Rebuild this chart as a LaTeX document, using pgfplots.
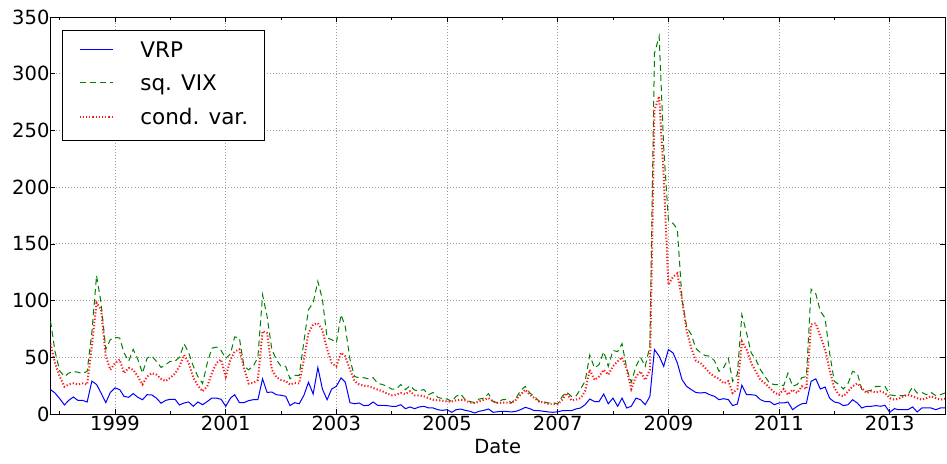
\documentclass[border=0pt]{standalone}
\usepackage{fontspec}
\setmainfont{DejaVu Sans}
\usepackage{pgfplots}
\usepackage{pgfplotstable}
\pgfplotsset{compat=1.18}
\usepgfplotslibrary{dateplot}

% monthly series: VRP, squared VIX, conditional variance
\pgfplotstableread{
date vrp vix cv
1997-11-01 21.5 82 62
1997-12-01 18.5 55 45
1998-01-01 13.5 38 33
1998-02-01 8 33 24
1998-03-01 12 36 26
1998-04-01 15 37.6 27
1998-05-01 12 36.8 26
1998-06-01 12 35.6 27
1998-07-01 10.6 37.6 26
1998-08-01 29 72 60
1998-09-01 26 122 98
1998-10-01 18.5 98 92
1998-11-01 10 57 51
1998-12-01 19 65.6 39
1999-01-01 23 67.6 45
1999-02-01 21.5 67 48
1999-03-01 15.6 54 36
1999-04-01 14.7 46.5 40.6
1999-05-01 18 57 39
1999-06-01 14.7 48 33
1999-07-01 12.6 36 26
1999-08-01 17 49.4 33
1999-09-01 16.8 51 36
1999-10-01 14 46.5 34.7
1999-11-01 9.5 41 31
1999-12-01 12 43.5 29
2000-01-01 13 46.5 32
2000-02-01 13 46.5 35.6
2000-03-01 8 50 42
2000-04-01 9.7 61.8 52
2000-05-01 10.6 54 45
2000-06-01 6.8 42 32
2000-07-01 10.6 33 25
2000-08-01 8.2 26.8 20
2000-09-01 11 45 24.4
2000-10-01 14 58 36
2000-11-01 14 59 45
2000-12-01 13 56 48
2001-01-01 6.8 49 33
2001-02-01 14 53 48
2001-03-01 17 68 55
2001-04-01 10 67 57
2001-05-01 10 42 40.6
2001-06-01 11.8 39 26.8
2001-07-01 12.6 42 27.4
2001-08-01 12.6 50 30
2001-09-01 31 105 73
2001-10-01 19 86 71.5
2001-11-01 19.4 57 39
2001-12-01 17 48 32.5
2002-01-01 16.5 42 30
2002-02-01 15.6 42 29
2002-03-01 7.4 31 26
2002-04-01 10 34 27.4
2002-05-01 9 34 27
2002-06-01 16.5 64 48
2002-07-01 28 92 71.5
2002-08-01 17.6 98 79
2002-09-01 41 117 80
2002-10-01 22 101 74
2002-11-01 12.6 67 57
2002-12-01 22 65.6 45
2003-01-01 24.4 62.6 42
2003-02-01 31.8 87.6 54
2003-03-01 28 77 51
2003-04-01 10 48 39
2003-05-01 9 33 29
2003-06-01 9.7 32 26
2003-07-01 7.4 32 25
2003-08-01 7.6 31 24.4
2003-09-01 10.6 32 23
2003-10-01 7.6 27 21.5
2003-11-01 7.6 26 20
2003-12-01 7.4 24.4 18
2004-01-01 6.8 22 16.5
2004-02-01 6.8 22 17
2004-03-01 8.2 26 18.5
2004-04-01 4.7 21.5 17.6
2004-05-01 6.2 25 20
2004-06-01 4.7 21 16.5
2004-07-01 6.2 20.6 16.5
2004-08-01 6.8 21.5 15.6
2004-09-01 5.3 17 14
2004-10-01 5.3 19 12.6
2004-11-01 3.8 14.7 12
2004-12-01 3.2 13.5 11.8
2005-01-01 3.8 13.2 11
2005-02-01 1.5 11 11
2005-03-01 3.8 15.6 12
2005-04-01 4.4 17.6 12.6
2005-05-01 3.2 12.6 12
2005-06-01 2.4 11 10
2005-07-01 0.9 10 9.7
2005-08-01 2.4 13.2 11
2005-09-01 3.2 14 12.6
2005-10-01 4.4 18 14
2005-11-01 1.5 11 11
2005-12-01 2 10 9.7
2006-01-01 2.4 12.6 10
2006-02-01 2.2 13 10
2006-03-01 1.8 9.7 9.7
2006-04-01 2.4 14 12.6
2006-05-01 3.8 20.6 17
2006-06-01 5.9 24.4 21.5
2006-07-01 4.7 18.5 17
2006-08-01 2.9 15.6 14
2006-09-01 2.9 11 11
2006-10-01 2.4 10.6 10.3
2006-11-01 1.8 9.7 9
2006-12-01 1.5 10 9
2007-01-01 2 9 8.5
2007-02-01 2.9 15.6 12.6
2007-03-01 2.9 19.4 18.5
2007-04-01 2.9 15.6 12
2007-05-01 4.4 15.6 12.6
2007-06-01 5.3 22 14
2007-07-01 8.2 28.8 20
2007-08-01 13.2 52 39
2007-09-01 11 40.6 30
2007-10-01 11 43.5 33
2007-11-01 17.6 55 39
2007-12-01 9 42 34.7
2008-01-01 14 56 42
2008-02-01 6.8 55 46.5
2008-03-01 14 62 50
2008-04-01 5.3 40 39
2008-05-01 6.8 28 22
2008-06-01 14 42 33
2008-07-01 12.6 50 37.6
2008-08-01 8.2 42 30
2008-09-01 15.6 60 39
2008-10-01 56.8 318 268
2008-11-01 51 333 280
2008-12-01 42 235 210
2009-01-01 56.8 171 114
2009-02-01 53.8 168 121
2009-03-01 45 163 124
2009-04-01 30.3 101 101
2009-05-01 24.4 77 74
2009-06-01 21.5 70 58
2009-07-01 19 58 47
2009-08-01 18.5 54 45
2009-09-01 19 51.5 40.6
2009-10-01 17 51 36
2009-11-01 15.6 47 33
2009-12-01 12.6 37.6 31
2010-01-01 13.5 41 27
2010-02-01 12.6 49 29
2010-03-01 7.4 28.8 18.5
2010-04-01 8.8 35 22
2010-05-01 25.3 87.6 64
2010-06-01 17 71.5 57
2010-07-01 17 54 45
2010-08-01 16.5 48 37.6
2010-09-01 12.6 39 30
2010-10-01 11 33 27
2010-11-01 11 27 23
2010-12-01 8.2 26 19
2011-01-01 9.7 26 17
2011-02-01 9.7 25 22
2011-03-01 10.6 36 17
2011-04-01 3.8 24.4 21.5
2011-05-01 6.8 26 18.5
2011-06-01 9 32 24.4
2011-07-01 9.5 33 22
2011-08-01 28.8 110 79
2011-09-01 31 106 80
2011-10-01 22 90.6 68.5
2011-11-01 23.8 84.7 57
2011-12-01 14 54 39
2012-01-01 10.6 28.8 23
2012-02-01 9.7 26 17
2012-03-01 7.4 22 15.6
2012-04-01 8.2 27 20
2012-05-01 12.6 37.6 24.4
2012-06-01 9.7 36 27
2012-07-01 5.3 21.5 23
2012-08-01 6.8 20 18.5
2012-09-01 6.8 21 20
2012-10-01 7.4 24.4 19
2012-11-01 6.8 24.4 20
2012-12-01 7.6 24.4 18.5
2013-01-01 1.5 17 14
2013-02-01 4.7 16.2 12.6
2013-03-01 3.8 16.2 13.5
2013-04-01 3.8 16.2 15.6
2013-05-01 3.8 17 17
2013-06-01 6.2 23.8 15.6
2013-07-01 1.8 18.5 14
2013-08-01 5.3 19 12.6
2013-09-01 5.3 17 14
2013-10-01 5.3 19 15.6
2013-11-01 3.8 16.2 14
2013-12-01 5.3 17 12.6
2014-01-01 5.3 18.5 13.5
}\vrpdata

\definecolor{mplgreen}{rgb}{0,0.5,0}

\begin{document}
\begin{tikzpicture}
\useasboundingbox (-50.5pt,-49pt) rectangle (896.5pt,414pt);
\begin{axis}[
    at={(0pt,0pt)}, anchor=south west,
    scale only axis,
    width=894.5pt, height=397pt,
    date coordinates in=x,
    xmin=1997-11-01, xmax=2014-01-01,
    ymin=0, ymax=350,
    ytick={0,50,...,350},
    xtick={1999-01-01,2001-01-01,2003-01-01,2005-01-01,2007-01-01,2009-01-01,2011-01-01,2013-01-01},
    minor xtick={1998-01-01,2000-01-01,2002-01-01,2004-01-01,2006-01-01,2008-01-01,2010-01-01,2012-01-01},
    xticklabel={\year},
    /pgf/number format/assume math mode=true,
    tick label style={font=\fontsize{19.5}{22}\selectfont},
    xticklabel style={yshift=1.5pt},
    yticklabel style={xshift=2.5pt},
    xlabel={Date},
    xlabel style={font=\fontsize{19.5}{22}\selectfont, at={(axis description cs:0.5,0)}, anchor=north, yshift=-21.8pt},
    axis line style={black, line width=0.9pt},
    tick style={black, line width=0.7pt},
    major tick length=5pt, minor tick length=3pt,
    tick align=inside,
    grid=major,
    major grid style={gray!75, line width=0.8pt, dash pattern=on 1pt off 2pt},
    no markers,
    legend cell align=left,
    legend image code/.code={\draw[#1] (0pt,2.3pt) -- (33pt,2.3pt);},
    legend style={at={(0.0125,0.9673)}, anchor=north west,
        draw=black, line width=0.8pt,
        font=\fontsize{21.5}{24}\selectfont,
        inner xsep=16.6pt, inner ysep=11pt,
        row sep=13.4pt, column sep=26.7pt,
        nodes={inner sep=0pt, text height=15.7pt, text depth=4.6pt}},
]
\addplot[blue, line width=1pt] table[x=date, y=vrp] {\vrpdata};
\addlegendentry{VRP}
\addplot[mplgreen, line width=1pt, dash pattern=on 6pt off 4pt] table[x=date, y=vix] {\vrpdata};
\addlegendentry{sq. VIX}
\addplot[red!90, line width=2pt, dash pattern=on 1.2pt off 2pt] table[x=date, y=cv] {\vrpdata};
\addlegendentry{cond. var.}
\end{axis}
\end{tikzpicture}
\end{document}
